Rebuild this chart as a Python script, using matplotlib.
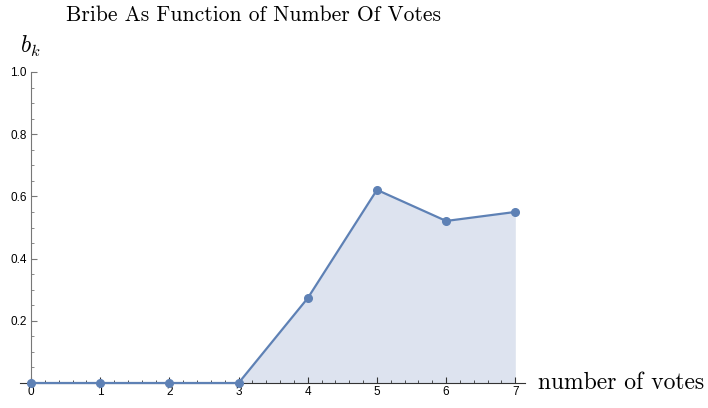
import matplotlib
matplotlib.use("Agg")
import matplotlib.pyplot as plt
from matplotlib.ticker import MultipleLocator

# number of votes and bribe values
votes = [0, 1, 2, 3, 4, 5, 6, 7]
bribe = [0.0, 0.0, 0.0, 0.0, 0.273, 0.621, 0.521, 0.55]

line_color = "#5E81B5"
fill_color = "#DDE3EF"

plt.rcParams["mathtext.fontset"] = "cm"

fig = plt.figure(figsize=(7.08, 4.08), dpi=100)
ax = fig.add_axes([20 / 708, 25 / 408, 505 / 708, 311 / 408])

ax.fill_between(votes, bribe, 0, color=fill_color, linewidth=0)
ax.plot(votes, bribe, color=line_color, linewidth=1.6, marker="o",
        markersize=5.5, clip_on=False, zorder=3)

ax.set_xlim(-0.16, 7.14)
ax.set_ylim(0, 1.0)

for s in ["top", "right"]:
    ax.spines[s].set_visible(False)
ax.spines["left"].set_position(("data", 0))
ax.spines["left"].set_bounds(0, 1.0)
ax.spines["left"].set_color("#777777")
ax.spines["bottom"].set_color("#333333")

ax.set_xticks(votes)
ax.xaxis.set_minor_locator(MultipleLocator(0.2))
ax.set_yticks([0.2, 0.4, 0.6, 0.8, 1.0])
ax.set_yticklabels(["0.2", "0.4", "0.6", "0.8", "1.0"])
ax.yaxis.set_minor_locator(MultipleLocator(0.05))

ax.tick_params(axis="x", which="major", direction="in", length=4, width=0.8,
               labelsize=8.5, pad=2, colors="#333333", labelcolor="black")
ax.tick_params(axis="x", which="minor", direction="in", length=2.5, width=0.6,
               colors="#333333")
ax.tick_params(axis="y", which="major", direction="in", length=4, width=0.8,
               labelsize=8.5, pad=3, colors="#777777", labelcolor="black")
ax.tick_params(axis="y", which="minor", direction="in", length=2.5, width=0.6,
               colors="#777777")
for lab in ax.get_xticklabels() + ax.get_yticklabels():
    lab.set_fontfamily("Liberation Sans")

fig.text(253 / 708, 1 - 15 / 408, "Bribe As Function of Number Of Votes",
         fontfamily="cmr10", fontsize=15.5, ha="center", va="center")
fig.text(30 / 708, 1 - 46 / 408, r"$b_k$", fontsize=17,
         ha="center", va="center")
fig.text(538 / 708, 1 - 383 / 408, "number of votes", fontfamily="cmr10",
         fontsize=17, ha="left", va="center")

fig.savefig("out.png", dpi=100)
